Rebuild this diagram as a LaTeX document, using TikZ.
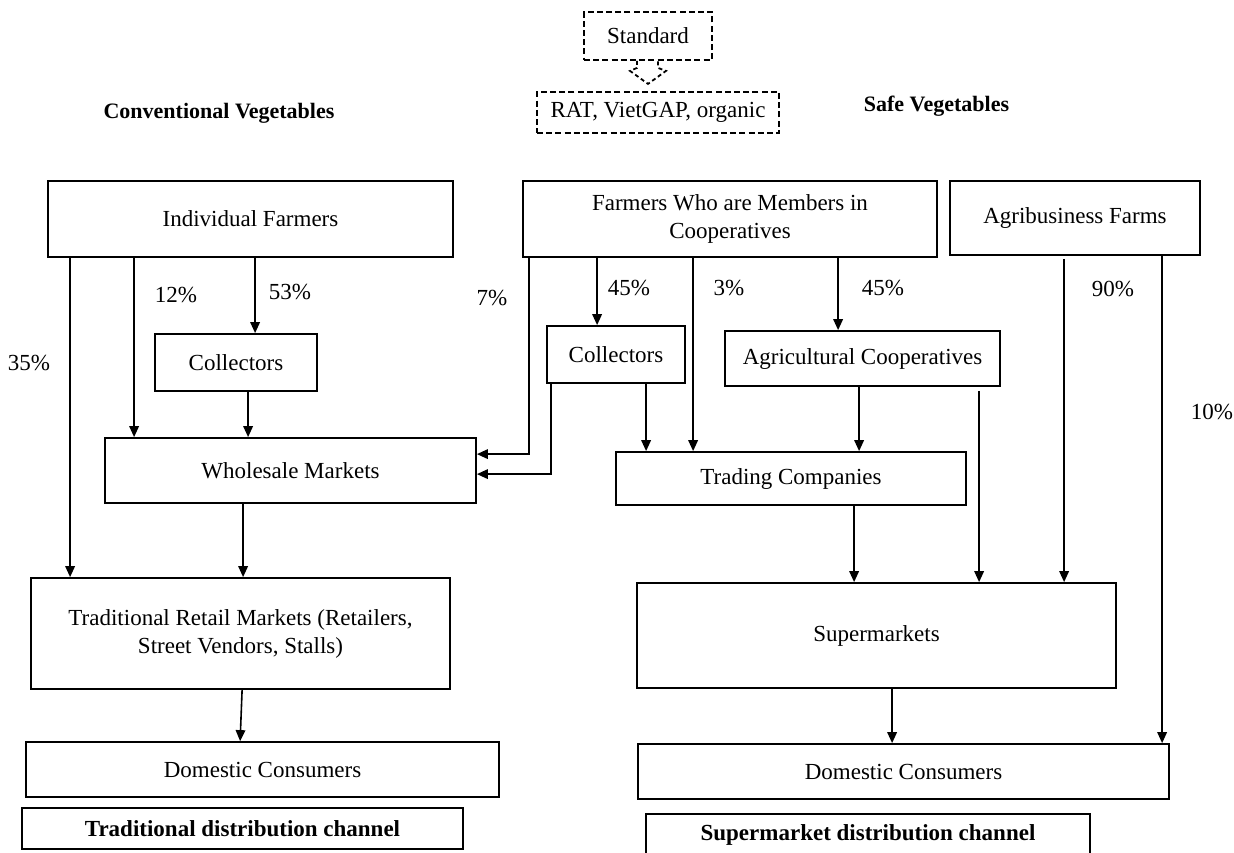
\documentclass[tikz,border=0pt]{standalone}
\usepackage{fontspec}
\setmainfont{Liberation Serif}
\usepackage{tikz}
\usetikzlibrary{arrows.meta, calc}
\tikzset{
    box/.style={rectangle, draw=black, line width=0.9pt, inner sep=2pt, align=center, text centered, font=\fontsize{11.5}{14}\selectfont},
    stdbox/.style={box, dash pattern=on 3pt off 1.6pt},
    heading/.style={font=\fontsize{11}{13}\selectfont\bfseries},
    channel/.style={box, font=\fontsize{11.5}{14}\selectfont\bfseries},
    pct/.style={font=\fontsize{11.5}{14}\selectfont},
    line/.style={draw, -{Triangle[length=5.5pt, width=4.8pt]}, line width=0.8pt}
}

\begin{document}
\begin{tikzpicture}[x=0.5pt, y=-0.5pt]
        \useasboundingbox (0,0) rectangle (1234,852);

        % Standard
        \node [stdbox, minimum width=64pt, minimum height=24pt] (std) at (648,36) {Standard};
        \node [stdbox, minimum width=121pt, minimum height=20.5pt] (rat) at (658,112.5) {RAT, VietGAP, organic};
        \draw [line width=0.9pt, dash pattern=on 2pt off 1.5pt] ($(std.south)+(-11,0)$) -- ++(0,7) -- ++(-7,3) -- ++(18,13) -- ++(18,-13) -- ++(-8,-3) -- ++(0,-7);

        % Headings
        \node [heading] (conv) at (219,113) {Conventional Vegetables};
        \node [heading] (safe) at (936.5,106) {Safe Vegetables};

        % Conventional side
        \node [box, minimum width=202.5pt, minimum height=38pt] (indiv) at (250.5,219) {Individual Farmers};
        \node [box, minimum width=81pt, minimum height=28.5pt] (coll1) at (236,362.5) {Collectors};
        \node [box, minimum width=185.5pt, minimum height=32.5pt] (whole) at (290.5,470.5) {Wholesale Markets};
        \node [box, minimum width=209.5pt, minimum height=55.5pt] (retail) at (240.5,633.5) {Traditional Retail Markets (Retailers,\\Street Vendors, Stalls)};
        \node [box, minimum width=236.5pt, minimum height=27.5pt] (cons1) at (262.5,769.5) {Domestic Consumers};
        \node [channel, minimum width=220.5pt, minimum height=20.5pt] (chan1) at (242.5,828.5) {Traditional distribution channel};

        % Safe side
        \node [box, minimum width=207pt, minimum height=38pt] (members) at (730,219) {Farmers Who are Members in\\Cooperatives};
        \node [box, minimum width=125pt, minimum height=37pt] (agri) at (1075,218) {Agribusiness Farms};
        \node [box, minimum width=69pt, minimum height=28.5pt] (coll2) at (616,354.5) {Collectors};
        \node [box, minimum width=137.5pt, minimum height=27.5pt] (agcoop) at (862.5,358.5) {Agricultural Cooperatives};
        \node [box, minimum width=175pt, minimum height=26.5pt] (trading) at (791,478.5) {Trading Companies};
        \node [box, minimum width=239.5pt, minimum height=52.5pt] (super) at (876.5,635.5) {Supermarkets};
        \node [box, minimum width=265.5pt, minimum height=27.5pt] (cons2) at (903.5,771.5) {Domestic Consumers};
        \node [channel, minimum width=222pt, minimum height=21pt] (chan2) at (868,835) {Supermarket distribution channel};

        % Connections, conventional
        \draw [line] ($(indiv.south west)+(23,0)$) -- ($(retail.north west)+(40,0)$);
        \draw [line] ($(indiv.south west)+(87,0)$) -- ($(whole.north west)+(30,0)$);
        \draw [line] ($(indiv.south west)+(208,0)$) -- ($(coll1.north west)+(101,0)$);
        \draw [line] ($(coll1.south west)+(94,0)$) -- ($(whole.north west)+(144,0)$);
        \draw [line] ($(whole.south west)+(139,0)$) -- ($(retail.north west)+(213,0)$);
        \draw [line] ($(retail.south west)+(212,0)$) -- ($(cons1.north west)+(215,0)$);
        \node [pct] (p35) at (29,363) {35\%};
        \node [pct] (p12) at (176,295) {12\%};
        \node [pct] (p53) at (290,292) {53\%};

        % Connections, safe
        \draw [line] ($(members.south west)+(7,0)$) |- ($(whole.north east)+(0,17)$);
        \draw [line] ($(coll2.south west)+(5,0)$) |- ($(whole.north east)+(0,37)$);
        \draw [line] ($(members.south west)+(75,0)$) -- ($(coll2.north west)+(51,0)$);
        \draw [line] ($(members.south west)+(171,0)$) -- ($(trading.north west)+(78,0)$);
        \draw [line] ($(members.south west)+(316,0)$) -- ($(agcoop.north west)+(114,0)$);
        \draw [line] ($(coll2.south west)+(100,0)$) -- ($(trading.north west)+(31,0)$);
        \draw [line] ($(agcoop.south west)+(135,0)$) -- ($(trading.north west)+(244,0)$);
        \draw [line] ($(agcoop.south west)+(255,4)$) -- ($(super.north west)+(343,0)$);
        \draw [line] ($(trading.south west)+(239,0)$) -- ($(super.north west)+(218,0)$);
        \draw [line] ($(agri.south west)+(115,3)$) -- ($(super.north west)+(428,0)$);
        \draw [line] ($(agri.south west)+(213,0)$) -- ($(cons2.north west)+(525,0)$);
        \draw [line] ($(super.south west)+(256,0)$) -- ($(cons2.north west)+(255,0)$);
        \node [pct] (p7) at (492,298) {7\%};
        \node [pct] (p45a) at (629,288) {45\%};
        \node [pct] (p3) at (729,288) {3\%};
        \node [pct] (p45b) at (883,288) {45\%};
        \node [pct] (p90) at (1113,289) {90\%};
        \node [pct] (p10) at (1212,412) {10\%};

    \end{tikzpicture}
\end{document}
